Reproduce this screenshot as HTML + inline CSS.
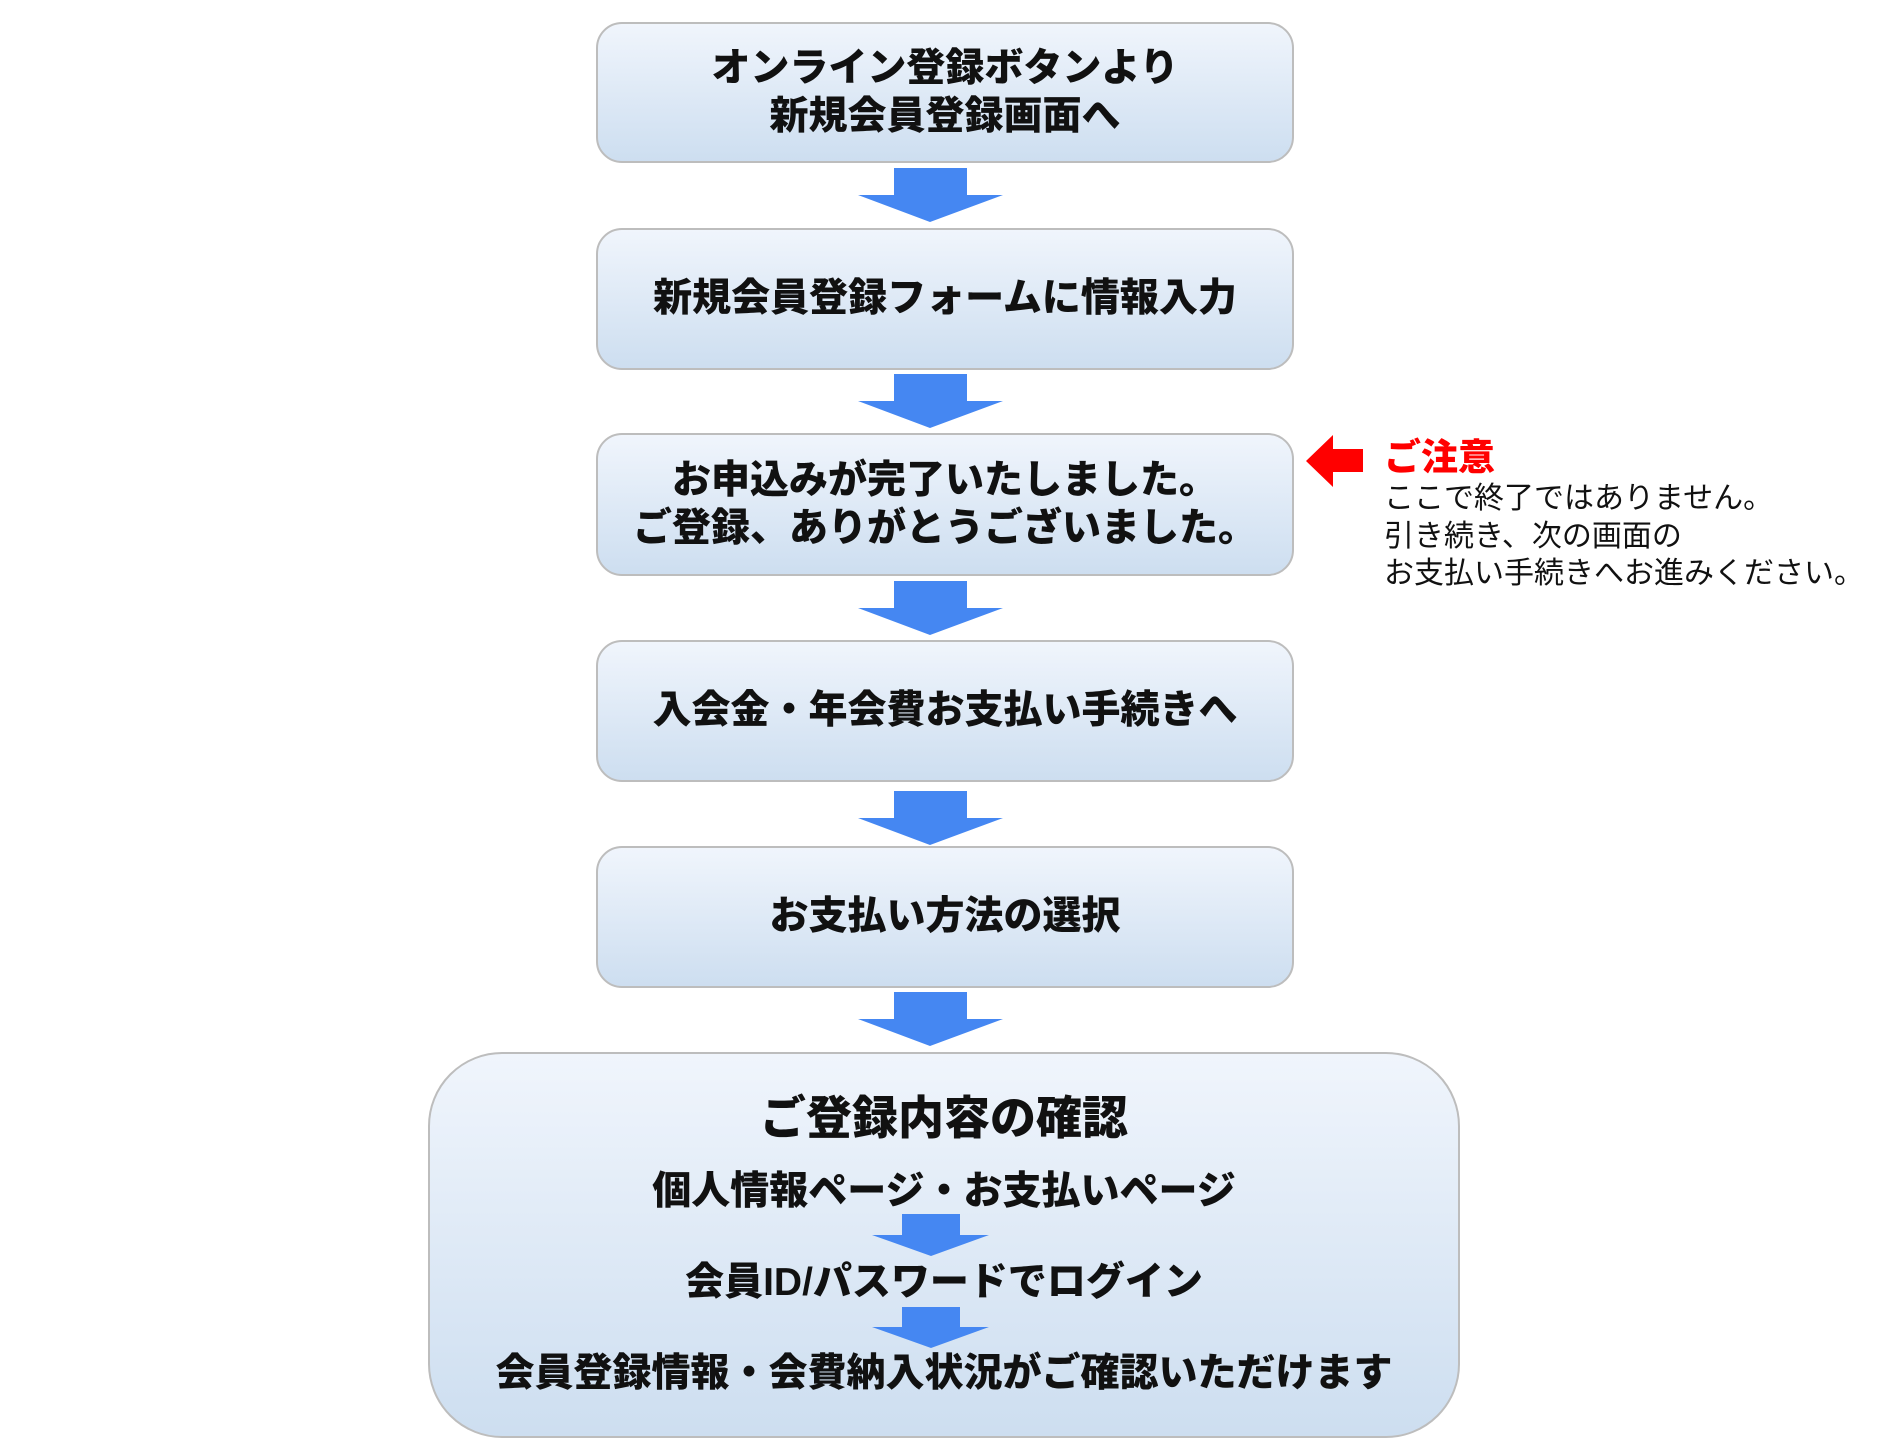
<!DOCTYPE html>
<html><head><meta charset="utf-8"><style>
body{margin:0;width:1880px;height:1452px;background:#fff;position:relative;overflow:hidden;font-family:"Liberation Sans","Noto Sans CJK JP",sans-serif;}
.b{position:absolute;left:596px;width:698px;border:2.5px solid #bdbdbd;border-radius:26px;background:linear-gradient(#f0f5fc,#cddef0);box-sizing:border-box;display:flex;align-items:center;justify-content:center;text-align:center;font-weight:900;font-size:39px;line-height:48px;color:#111;}
.t{position:absolute;left:4px;width:1880px;text-align:center;font-weight:900;color:#111;white-space:nowrap;}
</style></head><body>
<div class="b" style="top:22px;height:141px">オンライン登録ボタンより<br>新規会員登録画面へ</div>
<div class="b" style="top:228px;height:142px">新規会員登録フォームに情報入力</div>
<div class="b" style="top:433px;height:143px">お申込みが完了いたしました。<br>ご登録、ありがとうございました。</div>
<div class="b" style="top:640px;height:142px">入会金・年会費お支払い手続きへ</div>
<div class="b" style="top:846px;height:142px">お支払い方法の選択</div>
<div style="position:absolute;left:428px;top:1052px;width:1032px;height:386px;border:2.5px solid #bdbdbd;border-radius:74px;background:linear-gradient(#f0f5fc,#cddef0);box-sizing:border-box"></div>
<svg width="1880" height="1452" style="position:absolute;left:0;top:0">
<g fill="#4587f2">
<polygon points="894,168 967,168 967,195 1003,195 930,222 858,195 894,195"/>
<polygon points="894,374 967,374 967,401 1003,401 930,428 858,401 894,401"/>
<polygon points="894,581 967,581 967,608 1003,608 930,635 858,608 894,608"/>
<polygon points="894,791 967,791 967,818 1003,818 930,845 858,818 894,818"/>
<polygon points="894,992 967,992 967,1019 1003,1019 930,1046 858,1019 894,1019"/>
<polygon points="902,1214 960,1214 960,1235 989,1235 931,1256 872,1235 902,1235"/>
<polygon points="902,1307 960,1307 960,1327 989,1327 931,1348 872,1327 902,1327"/>
</g>
<polygon fill="#f00" points="1306,461 1333,435 1333,449 1363,449 1363,472 1333,472 1333,487"/>
</svg>
<div class="t" style="top:1089px;font-size:46px;line-height:58px">ご登録内容の確認</div>
<div class="t" style="top:1168px;font-size:39px;line-height:48px">個人情報ページ・お支払いページ</div>
<div class="t" style="top:1259px;font-size:39px;line-height:48px">会員ID/パスワードでログイン</div>
<div class="t" style="top:1350px;font-size:39px;line-height:48px">会員登録情報・会費納入状況がご確認いただけます</div>
<div style="position:absolute;left:1384px;top:435px;font-size:37px;line-height:46px;font-weight:900;color:#f00">ご注意</div>
<div style="position:absolute;left:1384px;top:480px;font-size:30px;line-height:37.5px;color:#111;white-space:nowrap">ここで終了ではありません。<br>引き続き、次の画面の<br>お支払い手続きへお進みください。</div>
</body></html>
